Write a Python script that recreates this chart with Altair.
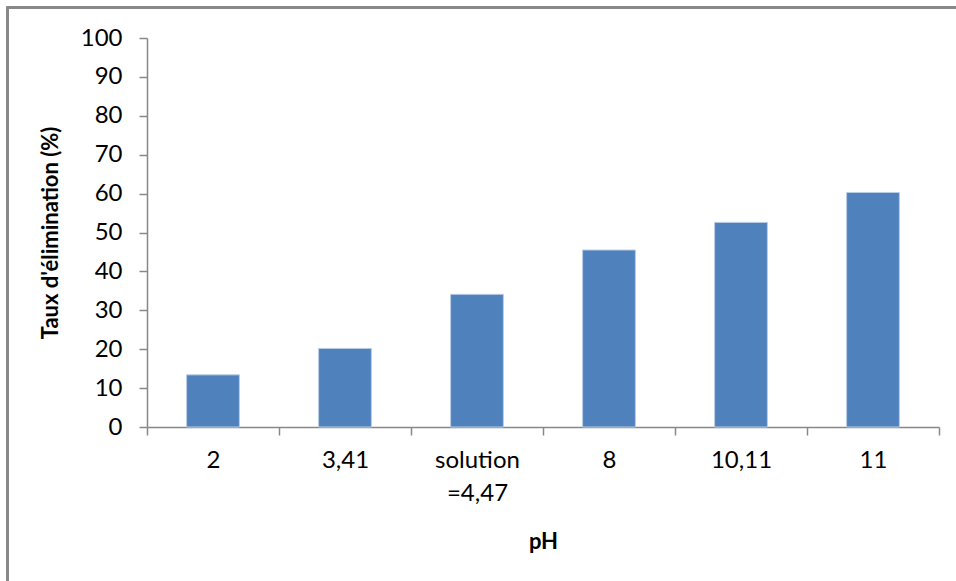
import altair as alt
import pandas as pd

categories = ["2", "3,41", "solution\n=4,47", "8", "10,11", "11"]
values = [13.4, 20.2, 34.1, 45.5, 52.6, 60.3]

df = pd.DataFrame({"pH": categories, "taux": values})

FONT = "Lato"
W, H = 792, 389
LEFT, TOP = 147, 38

bars = alt.Chart(df).mark_bar(color="#4F81BD", stroke="#B9CDE5", strokeWidth=1,
                              width=alt.RelativeBandSize(0.4)).encode(
    x=alt.X("pH:N", sort=categories,
            scale=alt.Scale(paddingInner=0, paddingOuter=0),
            axis=alt.Axis(title="pH", labelAngle=0, tickBand="extent",
                          labelExpr="split(datum.label, '\\n')",
                          labelLineHeight=33, labelPadding=13,
                          tickSize=8, titlePadding=26)),
    y=alt.Y("taux:Q", scale=alt.Scale(domain=[0, 100]),
            axis=alt.Axis(title="Taux d'élimination (%)", values=list(range(0, 101, 10)),
                          tickSize=8, labelPadding=17, titlePadding=18, grid=False)),
)

border = alt.Chart(df).mark_rect(fill=None, stroke="#888888", strokeWidth=2, clip=False).encode(
    x=alt.value(7.5 - LEFT), x2=alt.value(1100),
    y=alt.value(7.5 - TOP), y2=alt.value(700),
)

chart = alt.layer(border, bars).properties(
    width=W, height=H,
    background="white",
    autosize=alt.AutoSizeParams(type="none"),
    padding={"left": LEFT, "top": TOP, "right": 956 - LEFT - W, "bottom": 581 - TOP - H},
).configure_view(stroke=None).configure_axis(
    domainColor="#888888", tickColor="#888888", domainWidth=1.5, tickWidth=1.5,
    labelFont=FONT, labelFontSize=24, labelColor="#000000",
    titleFont=FONT, titleFontSize=22, titleFontWeight="bold", titleColor="#000000",
)

chart.save("out.html", embed_options={"renderer": "svg", "actions": False})
